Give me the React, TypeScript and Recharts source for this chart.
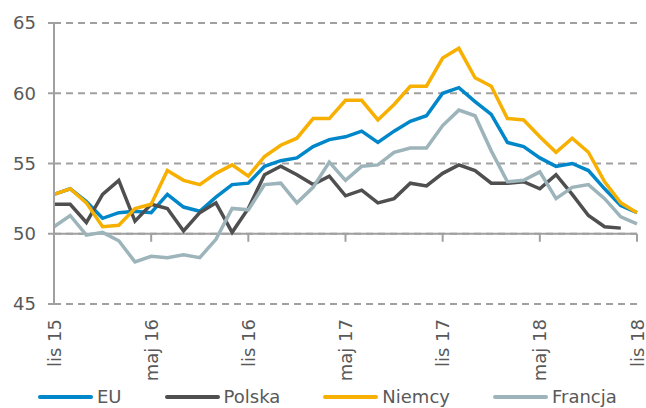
import React from "react"
import {
  LineChart,
  Line,
  XAxis,
  YAxis,
  CartesianGrid,
  ReferenceLine,
  Legend,
} from "recharts"

// ── data ──────────────────────────────────────────────────────────────────────

const MONTHS = [
  "lis 15", "gru 15", "sty 16", "lut 16", "mar 16", "kwi 16", "maj 16", "cze 16", "lip 16", "sie 16", "wrz 16", "paź 16",
  "lis 16", "gru 16", "sty 17", "lut 17", "mar 17", "kwi 17", "maj 17", "cze 17", "lip 17", "sie 17", "wrz 17", "paź 17",
  "lis 17", "gru 17", "sty 18", "lut 18", "mar 18", "kwi 18", "maj 18", "cze 18", "lip 18", "sie 18", "wrz 18", "paź 18",
  "lis 18",
]

const EU = [
  52.8, 53.2, 52.3, 51.1, 51.5, 51.6, 51.5, 52.8, 51.9, 51.6, 52.6, 53.5,
  53.6, 54.8, 55.2, 55.4, 56.2, 56.7, 56.9, 57.3, 56.5, 57.3, 58.0, 58.4,
  60.0, 60.4, 59.4, 58.5, 56.5, 56.2, 55.4, 54.8, 55.0, 54.5, 53.2, 52.0,
  51.5,
]

const POLSKA = [
  52.1, 52.1, 50.8, 52.8, 53.8, 50.9, 52.1, 51.8, 50.2, 51.5, 52.2, 50.1,
  51.8, 54.2, 54.8, 54.2, 53.5, 54.1, 52.7, 53.1, 52.2, 52.5, 53.6, 53.4,
  54.3, 54.9, 54.5, 53.6, 53.6, 53.7, 53.2, 54.2, 52.8, 51.3, 50.5, 50.4,
  null,
]

const NIEMCY = [
  52.8, 53.2, 52.2, 50.5, 50.6, 51.8, 52.1, 54.5, 53.8, 53.5, 54.3, 54.9,
  54.1, 55.5, 56.3, 56.8, 58.2, 58.2, 59.5, 59.5, 58.1, 59.2, 60.5, 60.5,
  62.5, 63.2, 61.1, 60.5, 58.2, 58.1, 56.9, 55.8, 56.8, 55.8, 53.7, 52.2,
  51.5,
]

const FRANCJA = [
  50.5, 51.3, 49.9, 50.1, 49.5, 48.0, 48.4, 48.3, 48.5, 48.3, 49.6, 51.8,
  51.7, 53.5, 53.6, 52.2, 53.3, 55.1, 53.8, 54.8, 54.9, 55.8, 56.1, 56.1,
  57.7, 58.8, 58.4, 55.9, 53.7, 53.8, 54.4, 52.5, 53.3, 53.5, 52.5, 51.2,
  50.7,
]

const Y_TICKS = [45, 50, 55, 60, 65]
const X_TICKS = ["lis 15", "maj 16", "lis 16", "maj 17", "lis 17", "maj 18", "lis 18"]

// ── styles ────────────────────────────────────────────────────────────────────

const FONT = "'DejaVu Sans', Verdana, sans-serif"
const TEXT = "#595959"
const AXIS = "#a0a0a0"

const SERIES = [
  { key: "EU",      color: "#0087c9" },
  { key: "Polska",  color: "#4f4f4f" },
  { key: "Niemcy",  color: "#f8b000" },
  { key: "Francja", color: "#9db4bb" },
]

const data = MONTHS.map((m, i) => ({
  month:   m,
  EU:      EU[i],
  Polska:  POLSKA[i],
  Niemcy:  NIEMCY[i],
  Francja: FRANCJA[i],
}))

// rotated month labels, reading bottom to top
function MonthTick({ x, y, payload }: any) {
  return (
    <text
      transform={`translate(${x},${y + 15}) rotate(-90)`}
      textAnchor="end"
      dominantBaseline="central"
      fill={TEXT}
      fontSize={18}
      fontFamily={FONT}
    >
      {payload.value}
    </text>
  )
}

function LegendBox() {
  return (
    <div style={{ display: "flex", alignItems: "center", height: 22, paddingLeft: 38 }}>
      {SERIES.map(s => (
        <div key={s.key} style={{ display: "flex", alignItems: "center", marginRight: 43 }}>
          <span style={{ display: "inline-block", width: 55, height: 4, borderRadius: 2, background: s.color }} />
          <span style={{ marginLeft: 4, fontFamily: FONT, fontSize: 18, color: TEXT, lineHeight: "22px" }}>
            {s.key}
          </span>
        </div>
      ))}
    </div>
  )
}

export default function App() {
  return (
    <div style={{ position: "absolute", left: 0, top: 0, width: 646, height: 408, background: "#fff" }}>
      <LineChart width={646} height={408} data={data} margin={{ top: 23, right: 9, bottom: 0, left: 0 }}>
        <CartesianGrid vertical={false} stroke={AXIS} strokeWidth={2} strokeDasharray="7 5" />
        <XAxis
          dataKey="month"
          interval={5}
          height={82}
          axisLine={false}
          tickLine={false}
          tickSize={0}
          tickMargin={0}
          tick={<MonthTick />}
        />
        <YAxis
          domain={[45, 65]}
          ticks={Y_TICKS}
          width={54}
          axisLine={{ stroke: AXIS, strokeWidth: 2 }}
          tickLine={{ stroke: AXIS, strokeWidth: 2 }}
          tickSize={6}
          tickMargin={12}
          tick={{ fill: TEXT, fontSize: 18, fontFamily: FONT }}
        />
        <ReferenceLine y={50} stroke={AXIS} strokeWidth={2} />
        {X_TICKS.map(t => (
          <ReferenceLine
            key={t}
            segment={[{ x: t, y: 50 }, { x: t, y: 49.43 }]}
            stroke={AXIS}
            strokeWidth={2}
            ifOverflow="visible"
          />
        ))}
        <Legend verticalAlign="bottom" align="left" content={<LegendBox />} />
        {SERIES.map(s => (
          <Line
            key={s.key}
            type="linear"
            dataKey={s.key}
            stroke={s.color}
            strokeWidth={3.5}
            dot={false}
            activeDot={false}
            isAnimationActive={false}
          />
        ))}
      </LineChart>
    </div>
  )
}
